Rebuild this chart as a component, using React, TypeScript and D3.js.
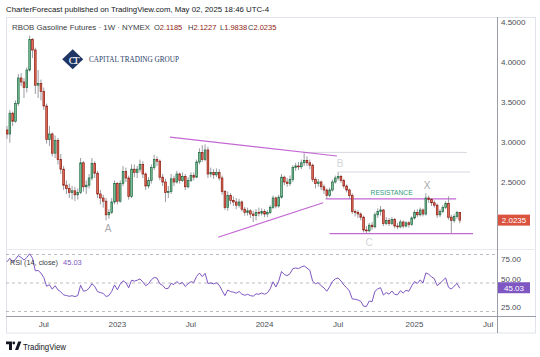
import React from "react";
import * as d3 from "d3";

const W = 540;
const H = 357;

// ---- data ----
const startDate = "2022-04-04"; // first visible weekly bar (Monday)
const firstOpen = 3.15;
// weekly closes before the visible window (off-screen, used only for RSI warm-up)
const warmupCloses = [2.24, 2.29, 2.32, 2.43, 2.48, 2.55, 2.7, 2.76, 2.71, 2.76, 3.33, 3.22, 3.08, 3.33, 3.15];

const closes = [
  3.10, 3.36, 3.26, 3.48, 3.80, 3.75, 3.68, 3.90, 4.28, 4.15,
  3.71, 3.73, 3.63, 3.45, 3.03, 3.10, 2.86, 3.02, 2.78, 2.66,
  2.46, 2.42, 2.37, 2.39, 2.34, 2.37, 2.74, 2.44, 2.46, 2.55,
  2.73, 2.61, 2.35, 2.30, 2.26, 2.09, 2.12, 2.25, 2.48, 2.26,
  2.48, 2.63, 2.55, 2.32, 2.66, 2.62, 2.66, 2.72, 2.60, 2.45,
  2.52, 2.68, 2.78, 2.76, 2.56, 2.50, 2.37, 2.38, 2.54, 2.50,
  2.60, 2.52, 2.57, 2.44, 2.52, 2.58, 2.56, 2.75, 2.87, 2.78,
  2.90, 2.60, 2.62, 2.59, 2.62, 2.55, 2.38, 2.18, 2.33, 2.27,
  2.25, 2.21, 2.25, 2.16, 2.12, 2.14, 2.10, 2.08, 2.12, 2.11,
  2.13, 2.10, 2.12, 2.18, 2.30, 2.20, 2.31, 2.56, 2.50, 2.48,
  2.53, 2.68, 2.70, 2.69, 2.74, 2.77, 2.74, 2.71, 2.53, 2.48,
  2.50, 2.44, 2.40, 2.33, 2.40, 2.50, 2.55, 2.57, 2.52, 2.45,
  2.40, 2.33, 2.13, 2.12, 2.10, 2.06, 1.90, 1.89, 1.96, 1.94,
  2.09, 2.13, 2.15, 1.98, 2.02, 1.98, 2.03, 1.95, 1.94, 2.00,
  1.95, 1.99, 1.97, 2.05, 2.12, 2.09, 2.15, 2.10, 2.30, 2.28,
  2.24, 2.21, 2.09, 2.13, 2.18, 2.23, 2.06, 2.02, 2.07, 2.1185,
  2.0235,
];
const highs = [
  3.20, 3.40, 3.38, 3.52, 3.85, 3.86, 3.80, 3.93, 4.33, 4.30,
  4.18, 3.90, 3.78, 3.68, 3.48, 3.20, 3.12, 3.08, 3.05, 2.85,
  2.70, 2.52, 2.48, 2.45, 2.44, 2.42, 2.80, 2.76, 2.52, 2.60,
  2.80, 2.76, 2.64, 2.40, 2.34, 2.30, 2.16, 2.30, 2.52, 2.50,
  2.52, 2.70, 2.68, 2.58, 2.72, 2.72, 2.70, 2.78, 2.76, 2.62,
  2.56, 2.72, 2.84, 2.82, 2.78, 2.60, 2.54, 2.45, 2.60, 2.58,
  2.64, 2.62, 2.62, 2.60, 2.56, 2.62, 2.62, 2.78, 2.92, 2.96,
  2.97, 2.94, 2.68, 2.66, 2.67, 2.66, 2.58, 2.40, 2.38, 2.36,
  2.32, 2.30, 2.29, 2.27, 2.19, 2.18, 2.16, 2.14, 2.16, 2.18,
  2.17, 2.16, 2.15, 2.21, 2.33, 2.32, 2.34, 2.60, 2.58, 2.55,
  2.58, 2.71, 2.74, 2.75, 2.78, 2.86, 2.82, 2.78, 2.73, 2.56,
  2.54, 2.52, 2.47, 2.42, 2.43, 2.53, 2.58, 2.62, 2.59, 2.54,
  2.47, 2.42, 2.36, 2.16, 2.15, 2.12, 2.08, 1.95, 1.99, 2.00,
  2.12, 2.17, 2.20, 2.16, 2.06, 2.05, 2.06, 2.05, 1.99, 2.03,
  2.02, 2.01, 2.01, 2.07, 2.15, 2.16, 2.18, 2.17, 2.36, 2.33,
  2.30, 2.27, 2.23, 2.16, 2.21, 2.26, 2.32, 2.09, 2.10, 2.14,
  2.1227,
];
const lows = [
  3.04, 2.99, 3.20, 3.24, 3.45, 3.70, 3.55, 3.62, 3.88, 4.05,
  3.60, 3.55, 3.52, 3.40, 2.98, 2.95, 2.82, 2.80, 2.72, 2.60,
  2.40, 2.35, 2.30, 2.28, 2.26, 2.28, 2.35, 2.38, 2.35, 2.42,
  2.52, 2.55, 2.30, 2.22, 2.18, 2.02, 2.04, 2.10, 2.22, 2.22,
  2.24, 2.45, 2.50, 2.28, 2.30, 2.56, 2.55, 2.62, 2.55, 2.40,
  2.42, 2.48, 2.65, 2.70, 2.52, 2.45, 2.25, 2.30, 2.35, 2.45,
  2.48, 2.48, 2.50, 2.40, 2.42, 2.50, 2.52, 2.55, 2.72, 2.75,
  2.76, 2.55, 2.56, 2.54, 2.56, 2.52, 2.34, 2.15, 2.14, 2.22,
  2.20, 2.16, 2.18, 2.13, 2.08, 2.08, 2.05, 2.00, 2.02, 2.07,
  2.08, 2.06, 2.06, 2.10, 2.16, 2.17, 2.18, 2.29, 2.46, 2.44,
  2.45, 2.50, 2.64, 2.65, 2.66, 2.70, 2.70, 2.66, 2.50, 2.42,
  2.44, 2.40, 2.35, 2.29, 2.31, 2.38, 2.48, 2.52, 2.49, 2.42,
  2.37, 2.29, 2.10, 2.07, 2.05, 2.02, 1.87, 1.86, 1.87, 1.90,
  1.92, 2.05, 2.08, 1.95, 1.96, 1.95, 1.96, 1.92, 1.91, 1.92,
  1.92, 1.93, 1.93, 1.95, 2.03, 2.06, 2.07, 2.07, 2.08, 2.24,
  2.20, 2.18, 2.05, 2.06, 2.11, 2.16, 2.03, 1.86, 1.99, 2.04,
  1.9838,
];

const priceTicks = [2.5, 3.0, 3.5, 4.0, 4.5];
const rsiTicks = [75, 50, 25];
const rsiBands = [80, 50, 20];
const timeTickDates = ["2022-07-04", "2023-01-02", "2023-07-03", "2024-01-01", "2024-07-01", "2025-01-06", "2025-07-07"];
const timeTickLabels = ["Jul", "2023", "Jul", "2024", "Jul", "2025", "Jul"];
const lastRsiText = "45.03";

// drawings anchored to (bar index, price)
const trendLines = [
  { i1: 57.6, p1: 3.06, i2: 116.6, p2: 2.825 },
  { i1: 74.6, p1: 1.81, i2: 111.7, p2: 2.24 },
  { i1: 112.6, p1: 2.29, i2: 158.7, p2: 2.29 },
  { i1: 114.0, p1: 1.855, i2: 164.7, p2: 1.855 },
];
const grayLines = [
  { i1: 104.7, p1: 2.87, i2: 162.5, p2: 2.87 },
  { i1: 116.6, p1: 2.625, i2: 163.6, p2: 2.625 },
];
const waveLabels = [
  { t: "A", i: 35.7, p: 1.92, c: "#a7a9ae" },
  { t: "B", i: 117.7, p: 2.735, c: "#d3d5da" },
  { t: "C", i: 128.0, p: 1.74, c: "#d3d5da" },
  { t: "X", i: 148.4, p: 2.455, c: "#a7a9ae" },
];

function computeRsi(values: number[], period = 14): (number | null)[] {
  const out: (number | null)[] = new Array(values.length).fill(null);
  let g = 0, l = 0;
  for (let i = 1; i <= period; i++) {
    const d = values[i] - values[i - 1];
    if (d > 0) g += d; else l -= d;
  }
  g /= period; l /= period;
  out[period] = l === 0 ? 100 : 100 - 100 / (1 + g / l);
  for (let i = period + 1; i < values.length; i++) {
    const d = values[i] - values[i - 1];
    g = (g * (period - 1) + Math.max(d, 0)) / period;
    l = (l * (period - 1) + Math.max(-d, 0)) / period;
    out[i] = l === 0 ? 100 : 100 - 100 / (1 + g / l);
  }
  return out;
}

export default function App() {
  const n = closes.length;
  const t0 = new Date(startDate + "T00:00:00Z");
  const dates = closes.map((_, i) => d3.utcDay.offset(t0, i * 7));
  const xTime = d3.scaleUtc().domain([dates[0], dates[n - 1]]).range([7, 459.8]);
  const xi = d3.scaleLinear().domain([0, n - 1]).range([7, 459.8]);
  const y = d3.scaleLinear().domain([1.5, 4.5]).range([262, 22]);
  const yr = d3.scaleLinear().domain([20, 80]).range([311.5, 254.5]);

  const opens = closes.map((_, i) => (i === 0 ? firstOpen : closes[i - 1]));
  const rsiAll = computeRsi([...warmupCloses, ...closes]);
  const rsi = rsiAll.slice(warmupCloses.length) as number[];

  const rsiLine = d3
    .line<number>()
    .x((_, i) => xi(i))
    .y((v) => yr(v))(rsi);

  const upL = "#7fbf98", upD = "#1c6740", dnL = "#e56e5a", dnD = "#8c1b10";
  const font = "'Liberation Sans', Arial, sans-serif";
  const axisCol = "#4a4d55";
  const lastClose = closes[n - 1];
  const rsiLabelY = yr(+lastRsiText);

  return (
    <svg width={W} height={H} style={{ position: "absolute", left: 0, top: 0, background: "#fff" }} fontFamily={font}>
      <defs>
        <clipPath id="pricePane"><rect x={6} y={17} width={491} height={232} /></clipPath>
        <clipPath id="rsiPane"><rect x={6} y={249} width={491} height={67} /></clipPath>
      </defs>
      <rect x={0} y={0} width={W} height={H} fill="#ffffff" />
      {/* header */}
      <text x={6} y={12} fontSize={8} fill="#131722" textLength={263} lengthAdjust="spacingAndGlyphs">
        CharterForecast published on TradingView.com, May 02, 2025 18:46 UTC-4
      </text>
      {/* frame */}
      <rect x={6.5} y={17.5} width={529} height={315.5} fill="none" stroke="#e0e3eb" />
      <line x1={6} x2={536} y1={249.5} y2={249.5} stroke="#e8eaef" />
      <line x1={497.5} x2={497.5} y1={17} y2={333} stroke="#9a9da6" />
      <line x1={6} x2={536} y1={316.5} y2={316.5} stroke="#9a9da6" />

      {/* logo watermark */}
      <g>
        <path d="M72.7,49.3 L83.2,59.3 L72.7,69.3 L62.2,59.3 Z" fill="#1f3563" />
        <text x={72.7} y={63.5} fontSize={11} fill="#ffffff" textAnchor="middle" fontFamily="'Liberation Serif', serif" letterSpacing={-3}>CT</text>
        <text x={89} y={62.3} fontSize={8} fill="#2b3b68" fontFamily="'Liberation Serif', 'DejaVu Serif', serif" textLength={90} lengthAdjust="spacingAndGlyphs">
          CAPITAL TRADING GROUP
        </text>
      </g>

      {/* price pane */}
      <g clipPath="url(#pricePane)">
        {grayLines.map((g, k) => (
          <line key={"g" + k} x1={xi(g.i1)} y1={y(g.p1)} x2={xi(g.i2)} y2={y(g.p2)} stroke="#d6d8de" strokeWidth={1} />
        ))}
        {trendLines.map((g, k) => (
          <line key={"t" + k} x1={xi(g.i1)} y1={y(g.p1)} x2={xi(g.i2)} y2={y(g.p2)} stroke="#b94ccb" strokeWidth={1.2} strokeOpacity={0.85} />
        ))}
        {closes.map((c, i) => {
          const o = opens[i];
          const up = c >= o;
          const cx = xi(i);
          const top = y(Math.max(o, c));
          const bot = y(Math.min(o, c));
          return (
            <g key={i}>
              <line x1={cx} x2={cx} y1={y(highs[i])} y2={y(lows[i])} stroke="#8f9299" strokeWidth={0.9} />
              <rect x={cx - 0.85} y={top} width={1.7} height={Math.max(bot - top, 0.8)} fill={up ? upL : dnL} stroke={up ? upD : dnD} strokeWidth={0.7} />
            </g>
          );
        })}
        {waveLabels.map((w, k) => (
          <text key={"w" + k} x={xi(w.i)} y={y(w.p) + 3.5} fontSize={10} fill={w.c} textAnchor="middle">{w.t}</text>
        ))}
        <text x={xi(135.9)} y={y(2.375) + 3} fontSize={7.5} fill="#2f9c80" textAnchor="middle" textLength={42} lengthAdjust="spacingAndGlyphs">RESISTANCE</text>
      </g>

      {/* legend */}
      <text x={12} y={29.5} fontSize={7.5} fill="#3b3e45" textLength={138} lengthAdjust="spacingAndGlyphs">
        RBOB Gasoline Futures · 1W · NYMEX
      </text>
      {[
        ["O", opens[n - 1].toFixed(4), 154],
        ["H", highs[n - 1].toFixed(4), 188],
        ["L", lows[n - 1].toFixed(4), 220],
        ["C", lastClose.toFixed(4), 248],
      ].map(([k, v, xx]) => (
        <text key={k as string} x={xx as number} y={29.5} fontSize={7.5} fill="#3b3e45">
          {k}
          <tspan fill="#8f1d12">{v}</tspan>
        </text>
      ))}

      {/* price axis */}
      {priceTicks.map((p) => (
        <text key={p} x={501} y={y(p) + 3} fontSize={8} fill={axisCol}>{p.toFixed(4)}</text>
      ))}
      <rect x={498} y={y(lastClose) - 5.5} width={32} height={11} fill="#d9533f" />
      <text x={514} y={y(lastClose) + 3} fontSize={8} fill="#ffffff" textAnchor="middle">{lastClose.toFixed(4)}</text>

      {/* RSI pane */}
      <g clipPath="url(#rsiPane)">
        {rsiBands.map((b) => (
          <line key={b} x1={6} x2={497} y1={yr(b)} y2={yr(b)} stroke="#a9acb3" strokeDasharray="3,3" strokeWidth={0.8} />
        ))}
        <path d={rsiLine || ""} fill="none" stroke="#7e57c2" strokeWidth={1} />
      </g>
      <text x={10} y={265} fontSize={7.5} fill="#3b3e45" textLength={48} lengthAdjust="spacingAndGlyphs">RSI (14, close)</text>
      <text x={63} y={265} fontSize={7.5} fill="#7e57c2">{lastRsiText}</text>
      {rsiTicks.map((v) => (
        <text key={v} x={501} y={v === 50 ? rsiLabelY - 6.2 : yr(v) + 3} fontSize={8} fill={axisCol}>{v.toFixed(2)}</text>
      ))}
      <rect x={498} y={rsiLabelY - 5.5} width={32} height={11} fill="#7e57c2" />
      <text x={514} y={rsiLabelY + 3} fontSize={8} fill="#ffffff" textAnchor="middle">{lastRsiText}</text>

      {/* time axis */}
      {timeTickDates.map((d, k) => (
        <text key={d} x={xTime(new Date(d + "T00:00:00Z"))} y={327} fontSize={8} fill={axisCol} textAnchor="middle">
          {timeTickLabels[k]}
        </text>
      ))}

      {/* TradingView logo */}
      <g fill="#131722">
        <path d="M6,341.5 h6 v8.5 h-3 v-5.7 h-3 z" />
        <circle cx={13.8} cy={343} r={1.4} />
        <path d="M15,350 l3.2,-8.5 h3.2 l-3.2,8.5 z" />
      </g>
      <text x={23} y={349.5} fontSize={9} fill="#131722" textLength={43} lengthAdjust="spacingAndGlyphs">TradingView</text>
    </svg>
  );
}
